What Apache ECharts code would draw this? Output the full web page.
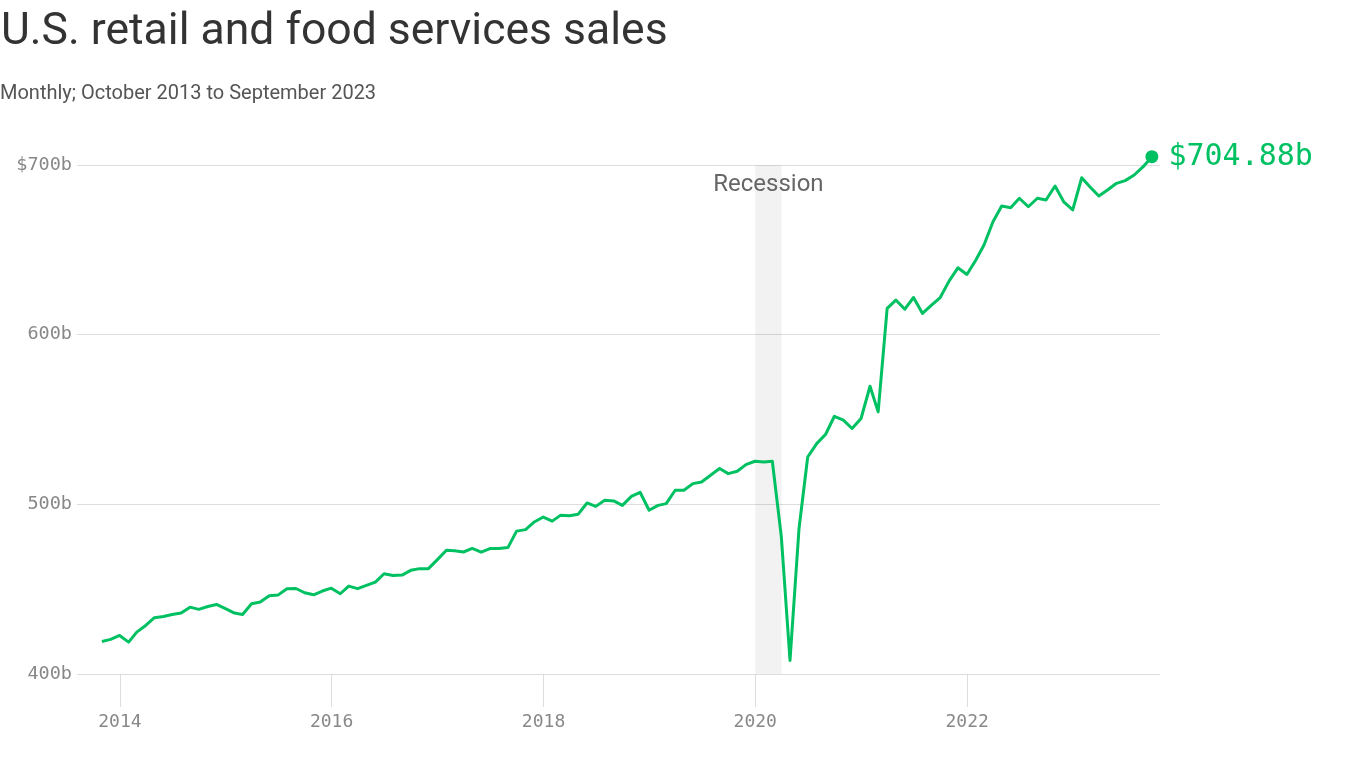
<!DOCTYPE html>
<html><head><meta charset="utf-8">
<script src="https://cdn.jsdelivr.net/npm/echarts@6/dist/echarts.min.js"></script>
<style>html,body{margin:0;padding:0;background:#fff}#c{width:1366px;height:768px}</style>
</head><body><div id="c"></div>
<script>
const titleText = 'U.S. retail and food services sales';
const subtitleText = 'Monthly; October 2013 to September 2023';
const firstYear = 2013;
const firstMonthIndex = 9; // October
// Billions of dollars, monthly
const sales2013 = [419.2, 420.4, 422.7];
const sales2014 = [418.8, 424.7, 428.6, 433.2, 433.9, 435.1, 435.9, 439.4, 438.1, 439.8, 441.0, 438.5];
const sales2015 = [435.9, 435.1, 441.4, 442.4, 446.1, 446.5, 450.3, 450.4, 447.9, 446.7, 448.9, 450.6];
const sales2016 = [447.3, 451.8, 450.3, 452.2, 454.2, 459.1, 458.1, 458.3, 461.1, 462.1, 462.1, 467.4];
const sales2017 = [472.9, 472.7, 471.9, 474.0, 471.8, 473.9, 474.0, 474.5, 484.2, 485.1, 489.6, 492.5];
const sales2018 = [490.1, 493.5, 493.3, 494.1, 500.8, 498.8, 502.4, 502.0, 499.4, 504.7, 507.1, 496.5];
const sales2019 = [499.4, 500.4, 508.3, 508.3, 512.2, 513.2, 517.1, 521.1, 518.1, 519.5, 523.4, 525.4];
const sales2020 = [525.0, 525.4, 481.0, 408.0, 485.6, 527.9, 535.8, 541.3, 551.9, 549.6, 544.7, 550.6];
const sales2021 = [569.6, 554.5, 615.5, 620.4, 615.0, 621.9, 612.5, 617.4, 621.9, 631.7, 639.4, 635.5];
const sales2022 = [644.0, 652.8, 666.6, 675.8, 674.8, 680.4, 675.4, 680.4, 679.4, 687.6, 678.3, 673.5];
const sales2023 = [692.5, 687.2, 681.7, 685.3, 689.2, 690.8, 694.1, 699.0, 704.88];
const yTicks = [400, 500, 600, 700];
const xTickYears = [2014, 2016, 2018, 2020, 2022];
const recessionStart = [2020, 0, 1];
const recessionEnd = [2020, 3, 1];
const recessionLabel = 'Recession';

const allSales = [].concat(sales2013, sales2014, sales2015, sales2016, sales2017, sales2018, sales2019, sales2020, sales2021, sales2022, sales2023);
// each month plotted at its last day
const seriesData = allSales.map((v, i) => {
  const d = new Date(firstYear, firstMonthIndex + i + 1, 0);
  return [d.getTime(), v];
});
const last = seriesData[seriesData.length - 1];
const tickVals = xTickYears.map(y => new Date(y, 0, 1).getTime());
const GREEN = '#00c162';
const MONO = '"DejaVu Sans Mono", monospace';

const chart = echarts.init(document.getElementById('c'));
chart.setOption({
  animation: false,
  backgroundColor: '#fff',
  title: [
    { text: titleText, left: -4, top: 5, textStyle: { fontFamily: 'Roboto', fontSize: 44.5, fontWeight: 'normal', color: '#333' } },
    { text: subtitleText, left: -5, top: 79, textStyle: { fontFamily: 'Roboto', fontSize: 20, fontWeight: 'normal', color: '#555' } }
  ],
  grid: { left: 77, right: 206, top: 165, bottom: 94 },
  xAxis: {
    type: 'value',
    min: new Date(2013, 7, 6).getTime(),
    max: new Date(2023, 9, 28).getTime(),
    axisLine: { show: false },
    axisTick: { show: true, length: 33, lineStyle: { color: '#ddd' }, customValues: tickVals },
    axisLabel: { customValues: tickVals, formatter: v => String(new Date(v).getFullYear()), margin: 39, fontFamily: MONO, fontSize: 18, color: '#888' },
    splitLine: { show: false }
  },
  yAxis: {
    type: 'value', min: yTicks[0], max: yTicks[yTicks.length - 1], interval: 100,
    axisLine: { show: false }, axisTick: { show: false },
    axisLabel: { formatter: v => (v === yTicks[yTicks.length - 1] ? '$' + v + 'b' : v + 'b'), margin: 5, fontFamily: MONO, fontSize: 18.5, color: '#888' },
    splitLine: { lineStyle: { color: '#ddd', width: 1 } }
  },
  series: [
    {
      type: 'line', data: seriesData, showSymbol: false, symbol: 'none', clip: false,
      lineStyle: { color: GREEN, width: 3, join: 'round' },
      markArea: {
        silent: true,
        itemStyle: { color: 'rgba(0,0,0,0.05)' },
        label: { show: true, position: 'insideTop', distance: 8, color: '#666', fontFamily: 'Roboto', fontSize: 24 },
        data: [[
          { name: recessionLabel, xAxis: new Date(...recessionStart).getTime() },
          { xAxis: new Date(...recessionEnd).getTime() }
        ]]
      }
    },
    {
      type: 'scatter', data: [last], symbolSize: 13, clip: false, itemStyle: { color: GREEN, opacity: 1 },
      label: { show: true, position: 'right', distance: 10, formatter: p => '$' + p.value[1].toFixed(2) + 'b', fontFamily: MONO, fontSize: 30, color: GREEN }
    }
  ]
});
</script></body></html>
